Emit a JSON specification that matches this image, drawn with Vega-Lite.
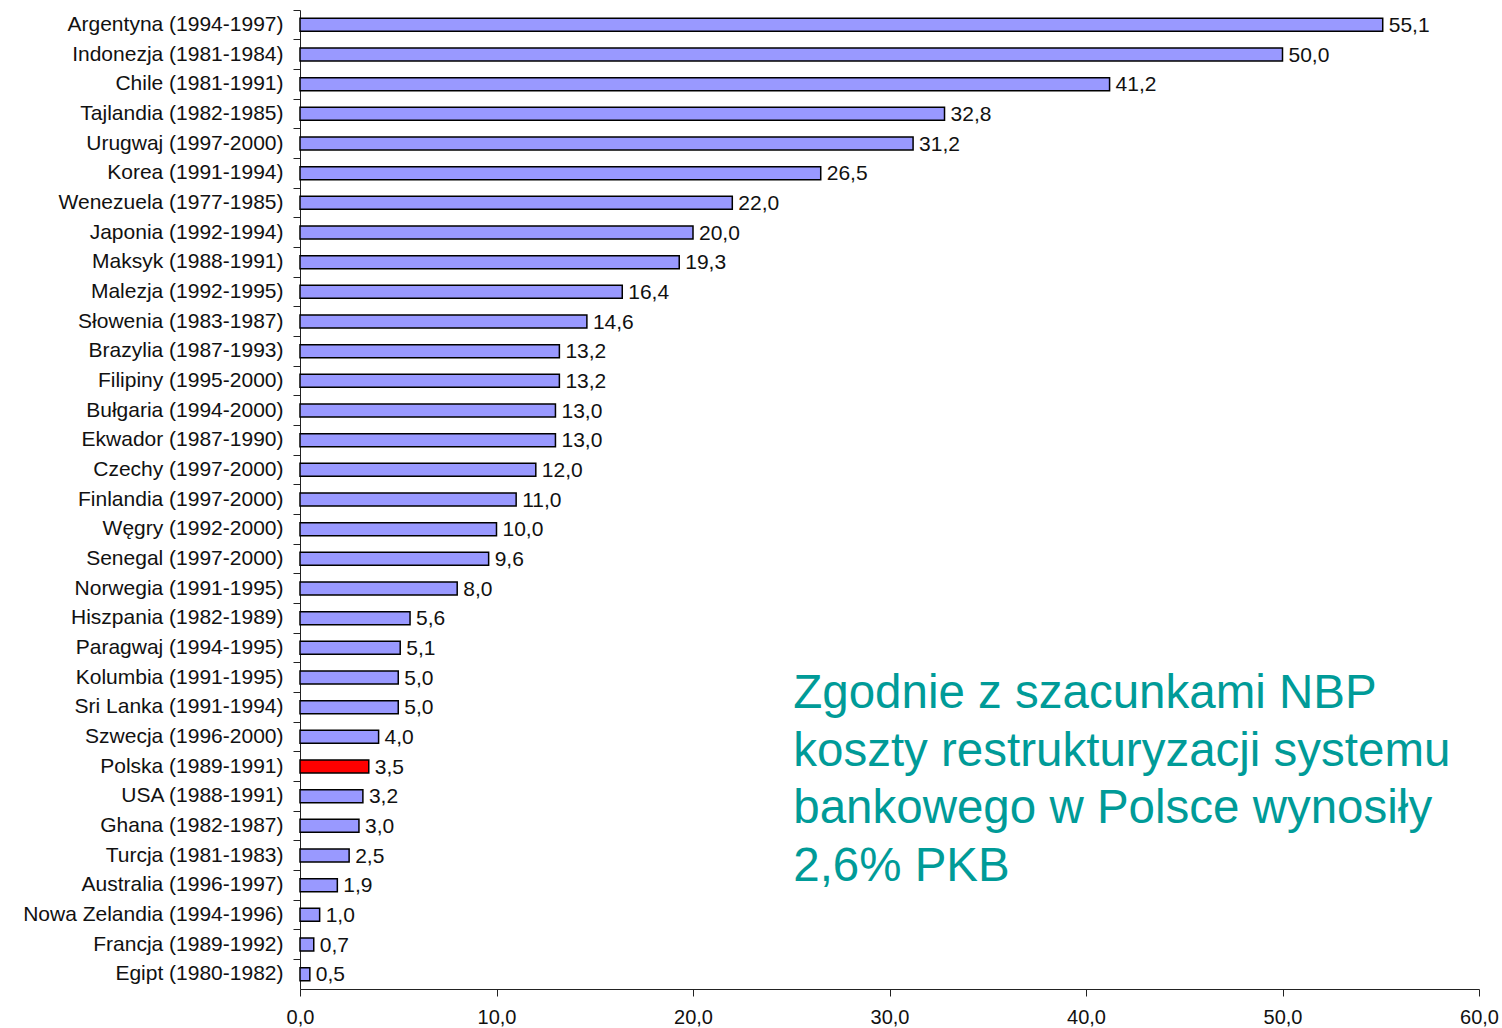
{
  "$schema": "https://vega.github.io/schema/vega-lite/v6.json",
  "autosize": "none",
  "width": 1179,
  "height": 979,
  "padding": {"left": 300, "top": 10, "right": 23, "bottom": 39},
  "background": "white",
  "config": {
    "locale": {"number": {"decimal": ",", "thousands": " ", "grouping": [3], "currency": ["", " zł"]}},
    "font": "Liberation Sans",
    "view": {"stroke": null}
  },
  "datasets": {
    "bars": [
      {"kraj": "Argentyna (1994-1997)", "koszt": 55.1, "polska": "nie"},
      {"kraj": "Indonezja (1981-1984)", "koszt": 50.0, "polska": "nie"},
      {"kraj": "Chile (1981-1991)", "koszt": 41.2, "polska": "nie"},
      {"kraj": "Tajlandia (1982-1985)", "koszt": 32.8, "polska": "nie"},
      {"kraj": "Urugwaj (1997-2000)", "koszt": 31.2, "polska": "nie"},
      {"kraj": "Korea (1991-1994)", "koszt": 26.5, "polska": "nie"},
      {"kraj": "Wenezuela (1977-1985)", "koszt": 22.0, "polska": "nie"},
      {"kraj": "Japonia (1992-1994)", "koszt": 20.0, "polska": "nie"},
      {"kraj": "Maksyk (1988-1991)", "koszt": 19.3, "polska": "nie"},
      {"kraj": "Malezja (1992-1995)", "koszt": 16.4, "polska": "nie"},
      {"kraj": "Słowenia (1983-1987) ", "koszt": 14.6, "polska": "nie"},
      {"kraj": "Brazylia (1987-1993)", "koszt": 13.2, "polska": "nie"},
      {"kraj": "Filipiny (1995-2000)", "koszt": 13.2, "polska": "nie"},
      {"kraj": "Bułgaria (1994-2000)", "koszt": 13.0, "polska": "nie"},
      {"kraj": "Ekwador (1987-1990)", "koszt": 13.0, "polska": "nie"},
      {"kraj": "Czechy (1997-2000)", "koszt": 12.0, "polska": "nie"},
      {"kraj": "Finlandia (1997-2000)", "koszt": 11.0, "polska": "nie"},
      {"kraj": "Węgry (1992-2000)", "koszt": 10.0, "polska": "nie"},
      {"kraj": "Senegal (1997-2000)", "koszt": 9.6, "polska": "nie"},
      {"kraj": "Norwegia (1991-1995)", "koszt": 8.0, "polska": "nie"},
      {"kraj": "Hiszpania (1982-1989)", "koszt": 5.6, "polska": "nie"},
      {"kraj": "Paragwaj (1994-1995)", "koszt": 5.1, "polska": "nie"},
      {"kraj": "Kolumbia (1991-1995)", "koszt": 5.0, "polska": "nie"},
      {"kraj": "Sri Lanka (1991-1994)", "koszt": 5.0, "polska": "nie"},
      {"kraj": "Szwecja (1996-2000)", "koszt": 4.0, "polska": "nie"},
      {"kraj": "Polska (1989-1991)", "koszt": 3.5, "polska": "tak"},
      {"kraj": "USA (1988-1991)", "koszt": 3.2, "polska": "nie"},
      {"kraj": "Ghana (1982-1987)", "koszt": 3.0, "polska": "nie"},
      {"kraj": "Turcja (1981-1983)", "koszt": 2.5, "polska": "nie"},
      {"kraj": "Australia (1996-1997)", "koszt": 1.9, "polska": "nie"},
      {"kraj": "Nowa Zelandia (1994-1996)", "koszt": 1.0, "polska": "nie"},
      {"kraj": "Francja (1989-1992)", "koszt": 0.7, "polska": "nie"},
      {"kraj": "Egipt (1980-1982)", "koszt": 0.5, "polska": "nie"}
    ],
    "note": [
      {"kraj": "Sri Lanka (1991-1994)", "koszt": 25.1, "tekst": "Zgodnie z szacunkami NBP\nkoszty restrukturyzacji systemu\nbankowego w Polsce wynosiły\n2,6% PKB"}
    ]
  },
  "encoding": {
    "y": {
      "field": "kraj", "type": "nominal", "sort": null, "title": null,
      "scale": {"padding": 0},
      "axis": {
        "bandPosition": 0, "tickSize": 7, "tickColor": "#222222", "domainColor": "#222222",
        "labelFontSize": 21, "labelColor": "#111111", "labelPadding": 10, "labelLimit": 400
      }
    },
    "x": {
      "field": "koszt", "type": "quantitative", "title": null,
      "scale": {"domain": [0, 60], "nice": false},
      "axis": {
        "values": [0, 10, 20, 30, 40, 50, 60], "format": ".1f", "grid": false,
        "tickSize": 7, "tickColor": "#222222", "domainColor": "#222222",
        "labelFontSize": 20, "labelColor": "#111111", "labelPadding": 11, "labelFlush": false
      }
    }
  },
  "layer": [
    {
      "data": {"name": "bars"},
      "mark": {"type": "bar", "size": 13, "stroke": "#000000", "strokeWidth": 1.5},
      "encoding": {
        "color": {
          "field": "polska", "type": "nominal", "legend": null,
          "scale": {"domain": ["nie", "tak"], "range": ["#9999FF", "#FF0000"]}
        }
      }
    },
    {
      "data": {"name": "bars"},
      "mark": {"type": "text", "align": "left", "baseline": "middle", "dx": 6, "dy": 1, "fontSize": 21, "color": "#111111"},
      "encoding": {
        "text": {"field": "koszt", "type": "quantitative", "format": ".1f"}
      }
    },
    {
      "data": {"name": "note"},
      "mark": {"type": "text", "align": "left", "baseline": "alphabetic", "fontSize": 47.5, "lineHeight": 57.5, "lineBreak": "\n", "color": "#009B98", "dy": 1},
      "encoding": {
        "text": {"field": "tekst", "type": "nominal"}
      }
    }
  ]
}
